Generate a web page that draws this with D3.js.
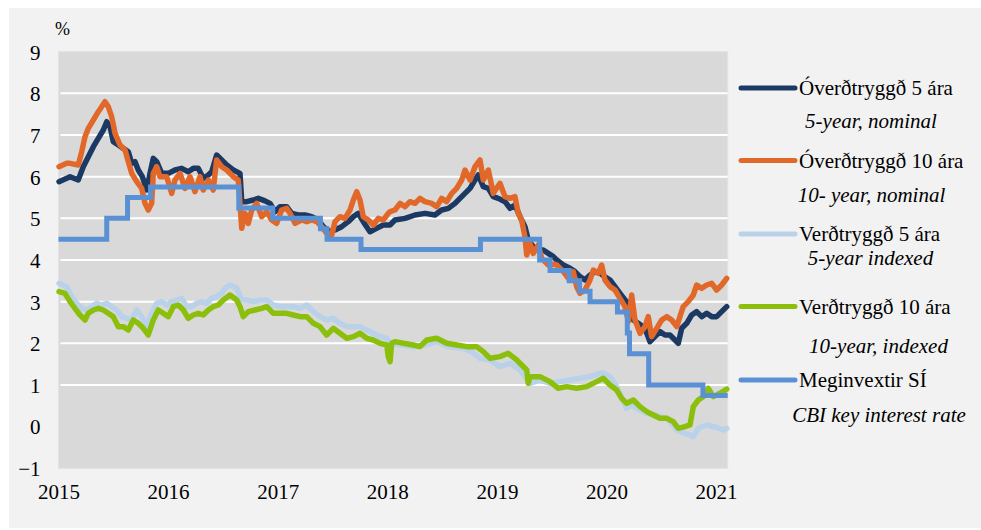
<!DOCTYPE html>
<html>
<head>
<meta charset="utf-8">
<script src="https://cdn.jsdelivr.net/npm/d3@7/dist/d3.min.js"></script>
<style>
  html, body { margin: 0; padding: 0; background: #ffffff; }
  svg { display: block; }
  text { font-family: "Liberation Serif", "Times New Roman", serif; fill: #000; }
</style>
</head>
<body>
<svg id="chart" width="981" height="530"></svg>
<script>
// ---------------- DATA (decimal year, percent) ----------------
const yTicks = [-1, 0, 1, 2, 3, 4, 5, 6, 7, 8, 9];
const gridValues = [1, 2, 3, 4, 5, 6, 7, 8];
const xTicks = [2015, 2016, 2017, 2018, 2019, 2020, 2021];

const seriesNames = ["Óverðtryggð 5 ára", "Óverðtryggð 10 ára", "Verðtryggð 5 ára", "Verðtryggð 10 ára", "Meginvextir SÍ"];
const seriesSubtitles = ["5-year, nominal", "10- year, nominal", "5-year indexed", "10-year, indexed", "CBI key interest rate"];

// Óverðtryggð 5 ára
const nominal5 = [
[2015.005,5.88],[2015.075,5.96],[2015.105,6.0],[2015.18,5.92],[2015.226,6.24],[2015.272,6.48],[2015.318,6.72],
[2015.363,6.92],[2015.409,7.12],[2015.44,7.32],[2015.47,7.2],[2015.5,6.84],[2015.546,6.76],[2015.591,6.68],
[2015.637,6.6],[2015.668,6.32],[2015.698,6.36],[2015.728,6.16],[2015.765,6.0],[2015.805,5.68],[2015.835,6.08],
[2015.865,6.44],[2015.896,6.36],[2015.942,6.08],[2016.002,6.08],[2016.063,6.16],[2016.124,6.2],[2016.184,6.12],
[2016.23,6.2],[2016.276,6.2],[2016.321,5.96],[2016.367,6.04],[2016.398,6.12],[2016.443,6.52],[2016.489,6.4],
[2016.535,6.28],[2016.595,6.16],[2016.656,6.08],[2016.672,5.4],[2016.717,5.4],[2016.777,5.44],[2016.823,5.48],
[2016.884,5.42],[2016.93,5.36],[2016.975,5.16],[2017.021,5.28],[2017.082,5.28],[2017.128,5.12],[2017.188,5.08],
[2017.249,5.08],[2017.31,5.04],[2017.37,4.96],[2017.416,4.8],[2017.477,4.68],[2017.523,4.72],[2017.584,4.8],
[2017.644,4.92],[2017.69,5.04],[2017.735,5.12],[2017.781,4.92],[2017.842,4.68],[2017.903,4.76],[2017.963,4.84],
[2018.025,4.84],[2018.07,4.96],[2018.162,5.0],[2018.253,5.08],[2018.344,5.12],[2018.435,5.08],[2018.496,5.2],
[2018.557,5.24],[2018.618,5.36],[2018.663,5.48],[2018.709,5.6],[2018.755,5.72],[2018.8,5.92],[2018.83,6.04],
[2018.876,5.76],[2018.922,5.72],[2018.967,5.52],[2019.013,5.48],[2019.074,5.4],[2019.12,5.24],[2019.165,5.32],
[2019.211,5.04],[2019.256,4.8],[2019.286,4.48],[2019.332,4.32],[2019.378,4.24],[2019.423,4.24],[2019.469,4.16],
[2019.515,4.08],[2019.546,4.0],[2019.606,3.88],[2019.667,3.8],[2019.713,3.72],[2019.758,3.6],[2019.804,3.52],
[2019.85,3.64],[2019.895,3.72],[2019.941,3.68],[2019.986,3.6],[2020.032,3.52],[2020.078,3.36],[2020.123,3.2],
[2020.169,3.04],[2020.215,2.92],[2020.245,2.56],[2020.29,2.48],[2020.351,2.36],[2020.397,2.04],[2020.442,2.16],
[2020.488,2.28],[2020.534,2.2],[2020.579,2.2],[2020.625,2.08],[2020.655,2.0],[2020.686,2.36],[2020.732,2.48],
[2020.777,2.68],[2020.823,2.76],[2020.869,2.64],[2020.914,2.72],[2020.96,2.64],[2021.005,2.64],[2021.051,2.76],
[2021.097,2.88]
];

// Óverðtryggð 10 ára
const nominal10 = [
[2015.005,6.24],[2015.075,6.32],[2015.105,6.32],[2015.18,6.28],[2015.212,6.6],[2015.242,6.96],[2015.272,7.16],
[2015.318,7.36],[2015.363,7.56],[2015.394,7.68],[2015.424,7.8],[2015.454,7.68],[2015.485,7.44],[2015.516,7.04],
[2015.561,6.76],[2015.607,6.64],[2015.637,6.36],[2015.668,6.08],[2015.714,5.88],[2015.759,5.72],[2015.789,5.36],
[2015.819,5.2],[2015.85,5.36],[2015.865,6.08],[2015.896,6.24],[2015.926,6.0],[2015.956,6.0],[2015.987,6.0],
[2016.033,5.6],[2016.063,5.92],[2016.109,6.08],[2016.154,5.72],[2016.2,6.0],[2016.245,5.64],[2016.291,6.0],
[2016.321,5.68],[2016.367,5.92],[2016.412,5.68],[2016.443,6.4],[2016.489,6.24],[2016.535,6.16],[2016.595,6.0],
[2016.64,5.92],[2016.672,4.76],[2016.702,5.12],[2016.732,4.88],[2016.763,5.2],[2016.808,5.36],[2016.854,5.04],
[2016.9,5.16],[2016.945,4.96],[2016.991,4.88],[2017.036,5.2],[2017.082,5.24],[2017.112,5.12],[2017.158,4.88],
[2017.219,4.96],[2017.265,4.92],[2017.31,4.96],[2017.356,4.92],[2017.401,4.8],[2017.447,4.64],[2017.493,4.6],
[2017.523,4.92],[2017.568,5.04],[2017.614,5.0],[2017.66,5.2],[2017.69,5.44],[2017.721,5.64],[2017.751,5.44],
[2017.781,5.04],[2017.827,4.96],[2017.872,4.84],[2017.918,5.0],[2017.963,4.96],[2018.009,5.12],[2018.025,5.16],
[2018.07,5.2],[2018.116,5.36],[2018.162,5.28],[2018.207,5.4],[2018.253,5.36],[2018.298,5.48],[2018.344,5.4],
[2018.405,5.36],[2018.451,5.28],[2018.496,5.48],[2018.542,5.4],[2018.588,5.6],[2018.633,5.72],[2018.679,5.92],
[2018.709,6.16],[2018.755,5.92],[2018.8,6.24],[2018.846,6.4],[2018.876,5.92],[2018.922,6.16],[2018.967,5.6],
[2019.028,5.84],[2019.074,5.52],[2019.12,5.48],[2019.165,5.52],[2019.195,5.12],[2019.226,4.96],[2019.256,4.56],
[2019.272,4.12],[2019.302,4.4],[2019.332,4.16],[2019.378,4.36],[2019.409,4.04],[2019.469,3.88],[2019.515,3.9],
[2019.546,3.88],[2019.606,3.72],[2019.652,3.56],[2019.697,3.72],[2019.728,3.36],[2019.758,3.2],[2019.804,3.28],
[2019.85,3.52],[2019.88,3.76],[2019.925,3.68],[2019.956,3.88],[2019.986,3.52],[2020.032,3.36],[2020.078,3.28],
[2020.123,3.08],[2020.169,2.88],[2020.2,2.52],[2020.23,3.16],[2020.26,2.56],[2020.306,2.24],[2020.351,2.4],
[2020.381,2.64],[2020.412,2.16],[2020.458,2.36],[2020.504,2.56],[2020.549,2.64],[2020.595,2.56],[2020.641,2.4],
[2020.67,2.64],[2020.7,2.88],[2020.746,3.0],[2020.792,3.16],[2020.823,3.4],[2020.869,3.32],[2020.914,3.4],
[2020.96,3.44],[2021.005,3.28],[2021.051,3.4],[2021.097,3.56]
];

// Verðtryggð 5 ára
const indexed5 = [
[2015.005,3.44],[2015.075,3.36],[2015.12,3.12],[2015.166,2.96],[2015.212,2.84],[2015.257,2.8],[2015.303,2.88],
[2015.349,2.96],[2015.394,2.92],[2015.44,2.96],[2015.485,2.88],[2015.531,2.8],[2015.577,2.64],[2015.622,2.6],
[2015.668,2.56],[2015.714,2.8],[2015.759,2.64],[2015.805,2.44],[2015.85,2.72],[2015.896,2.96],[2015.942,3.0],
[2015.987,2.92],[2016.033,3.0],[2016.078,3.04],[2016.124,3.08],[2016.17,2.88],[2016.215,2.88],[2016.261,2.96],
[2016.307,3.0],[2016.352,2.96],[2016.398,3.08],[2016.443,3.12],[2016.489,3.2],[2016.519,3.32],[2016.565,3.4],
[2016.626,3.32],[2016.672,3.04],[2016.717,3.04],[2016.777,3.0],[2016.838,3.04],[2016.9,3.04],[2016.96,2.92],
[2017.021,2.88],[2017.082,2.88],[2017.142,2.88],[2017.204,2.84],[2017.265,2.92],[2017.325,2.76],[2017.386,2.64],
[2017.447,2.56],[2017.507,2.6],[2017.568,2.48],[2017.63,2.4],[2017.69,2.4],[2017.751,2.4],[2017.812,2.32],
[2017.872,2.24],[2017.933,2.16],[2017.995,2.12],[2018.025,2.0],[2018.116,1.96],[2018.237,1.92],[2018.344,1.96],
[2018.451,2.04],[2018.557,1.92],[2018.693,1.88],[2018.77,1.8],[2018.846,1.64],[2018.937,1.6],[2019.028,1.44],
[2019.12,1.52],[2019.211,1.36],[2019.302,1.04],[2019.393,1.12],[2019.484,1.04],[2019.576,1.08],[2019.667,1.12],
[2019.758,1.16],[2019.85,1.2],[2019.941,1.28],[2019.971,1.28],[2020.032,1.2],[2020.093,0.96],[2020.154,0.6],
[2020.184,0.44],[2020.215,0.52],[2020.276,0.44],[2020.306,0.4],[2020.367,0.32],[2020.458,0.28],[2020.488,0.24],
[2020.549,0.2],[2020.579,0.12],[2020.641,-0.08],[2020.716,-0.16],[2020.762,-0.2],[2020.792,-0.24],[2020.838,-0.04],
[2020.914,0.04],[2021.005,-0.02],[2021.066,-0.08],[2021.097,-0.04]
];

// Verðtryggð 10 ára
const indexed10 = [
[2015.005,3.24],[2015.059,3.2],[2015.105,3.0],[2015.15,2.84],[2015.196,2.68],[2015.242,2.56],[2015.272,2.72],
[2015.318,2.8],[2015.363,2.84],[2015.409,2.8],[2015.454,2.72],[2015.5,2.64],[2015.546,2.4],[2015.591,2.4],
[2015.637,2.32],[2015.682,2.56],[2015.728,2.48],[2015.774,2.36],[2015.819,2.2],[2015.865,2.56],[2015.91,2.8],
[2015.956,2.72],[2016.002,2.64],[2016.047,2.88],[2016.093,2.92],[2016.139,2.8],[2016.184,2.6],[2016.23,2.68],
[2016.276,2.72],[2016.321,2.68],[2016.367,2.8],[2016.412,2.88],[2016.458,2.92],[2016.504,3.04],[2016.565,3.16],
[2016.626,3.04],[2016.656,2.88],[2016.686,2.64],[2016.732,2.76],[2016.793,2.8],[2016.854,2.84],[2016.9,2.88],
[2016.96,2.72],[2017.021,2.72],[2017.082,2.72],[2017.142,2.68],[2017.204,2.64],[2017.265,2.64],[2017.325,2.48],
[2017.386,2.4],[2017.447,2.2],[2017.507,2.36],[2017.568,2.24],[2017.63,2.12],[2017.69,2.16],[2017.751,2.24],
[2017.812,2.12],[2017.872,2.08],[2017.933,2.0],[2017.995,1.96],[2018.009,1.68],[2018.025,1.56],[2018.04,2.0],
[2018.07,2.04],[2018.146,2.0],[2018.237,1.96],[2018.298,1.92],[2018.36,2.08],[2018.451,2.12],[2018.542,2.0],
[2018.633,1.96],[2018.724,1.92],[2018.816,1.92],[2018.876,1.8],[2018.937,1.64],[2019.028,1.68],[2019.104,1.76],
[2019.181,1.6],[2019.272,1.36],[2019.286,1.04],[2019.302,1.2],[2019.393,1.2],[2019.484,1.08],[2019.56,0.92],
[2019.637,0.96],[2019.728,0.92],[2019.819,0.96],[2019.911,1.08],[2019.971,1.16],[2020.032,1.0],[2020.093,0.88],
[2020.139,0.68],[2020.184,0.56],[2020.245,0.64],[2020.306,0.48],[2020.367,0.36],[2020.427,0.28],[2020.488,0.2],
[2020.549,0.2],[2020.609,0.12],[2020.655,-0.04],[2020.716,0.0],[2020.762,0.04],[2020.792,0.48],[2020.838,0.64],
[2020.883,0.72],[2020.929,0.92],[2020.975,0.72],[2021.036,0.8],[2021.097,0.9]
];

// Meginvextir SÍ (step changes: date, new level)
const keyRateDates = [2015.0, 2015.44, 2015.63, 2015.84, 2016.645, 2016.955, 2017.39, 2017.45, 2017.76,
  2018.85, 2019.39, 2019.485, 2019.66, 2019.755, 2019.85, 2020.1, 2020.19, 2020.21, 2020.385, 2020.88, 2021.106];
const keyRates = [4.5, 5.0, 5.5, 5.75, 5.25, 5.0, 4.75, 4.5, 4.25,
  4.5, 4.0, 3.75, 3.5, 3.25, 3.0, 2.75, 2.25, 1.75, 1.0, 0.75, 0.75];

// ---------------- DRAWING ----------------
const FONT = "'Liberation Serif', 'Times New Roman', serif";
const svg = d3.select("#chart");
const plot = { left: 58.5, right: 727.7, top: 51.7, bottom: 468.3 };

const x = d3.scaleLinear().domain([2015, 2021.106]).range([plot.left, plot.right]);
const y = d3.scaleLinear().domain([-1, 9]).range([plot.bottom, plot.top]);

const colors = ["#1c3963", "#e2682a", "#bad1ea", "#8cbf0c", "#5a91d5"];

// outer panel
svg.append("rect").attr("x", 9).attr("y", 8).attr("width", 972).attr("height", 520).attr("fill", "#f2f2f2");

// plot area
svg.append("rect")
  .attr("x", plot.left).attr("y", plot.top)
  .attr("width", plot.right - plot.left).attr("height", plot.bottom - plot.top)
  .attr("fill", "#d9d9d9").attr("stroke", "#e3e3e3").attr("stroke-width", 1);

// gridlines
svg.append("g").selectAll("line").data(gridValues).join("line")
  .attr("x1", plot.left + 2).attr("x2", plot.right)
  .attr("y1", d => y(d)).attr("y2", d => y(d))
  .attr("stroke", "#ffffff").attr("stroke-width", 2);

// y axis
const yAxis = svg.append("g").attr("transform", `translate(${plot.left - 18},0)`)
  .call(d3.axisLeft(y).tickValues(yTicks).tickSize(0).tickPadding(0).tickFormat(d3.format("d")));
yAxis.select(".domain").remove();
yAxis.attr("font-family", FONT);
yAxis.selectAll("text").attr("font-size", 21).attr("font-family", FONT).attr("fill", "#000").attr("dy", "0.35em");

// x axis
const xAxis = svg.append("g").attr("transform", `translate(0,${plot.bottom})`)
  .call(d3.axisBottom(x).tickValues(xTicks).tickSize(0).tickPadding(16).tickFormat(d3.format("d")));
xAxis.select(".domain").remove();
xAxis.attr("font-family", FONT);
xAxis.selectAll("text").attr("font-size", 21).attr("font-family", FONT).attr("fill", "#000");

// % unit label
svg.append("text").attr("x", 55).attr("y", 35).attr("font-size", 18).attr("font-family", FONT).text("%");

// lines
const line = d3.line().x(d => x(d[0])).y(d => y(d[1]));
const stepLine = d3.line().curve(d3.curveStepAfter).x(d => x(d[0])).y(d => y(d[1]));
const keyRateSeries = keyRateDates.map((t, i) => [t, keyRates[i]]);

const marketSeries = [nominal5, nominal10, indexed5, indexed10];
const gLines = svg.append("g")
  .attr("fill", "none").attr("stroke-width", 5.5)
  .attr("stroke-linejoin", "round").attr("stroke-linecap", "round");

marketSeries.forEach((s, i) => {
  gLines.append("path").datum(s).attr("d", line).attr("stroke", colors[i]);
});
gLines.append("path").datum(keyRateSeries).attr("d", stepLine)
  .attr("stroke", colors[4]).attr("stroke-width", 5).attr("stroke-linecap", "butt").attr("stroke-linejoin", "miter");

// legend
const legendRows = [88, 160.5, 234, 306.5, 380];
const subtitleRows = [128, 201.5, 265, 353, 421.5];
const subtitleCenters = [871, 871.5, 870.5, 878.5, 879];
const leg = svg.append("g").attr("font-family", FONT);
seriesNames.forEach((name, i) => {
  leg.append("line")
    .attr("x1", 741).attr("x2", 795)
    .attr("y1", legendRows[i]).attr("y2", legendRows[i])
    .attr("stroke", colors[i]).attr("stroke-width", 5).attr("stroke-linecap", "round");
  leg.append("text").attr("x", 799).attr("y", legendRows[i] + 7)
    .attr("font-size", 21).attr("font-family", FONT).text(name);
  leg.append("text").attr("x", subtitleCenters[i]).attr("y", subtitleRows[i])
    .attr("font-size", 21).attr("font-style", "italic").attr("text-anchor", "middle")
    .attr("font-family", FONT).text(seriesSubtitles[i]);
});
</script>
</body>
</html>
